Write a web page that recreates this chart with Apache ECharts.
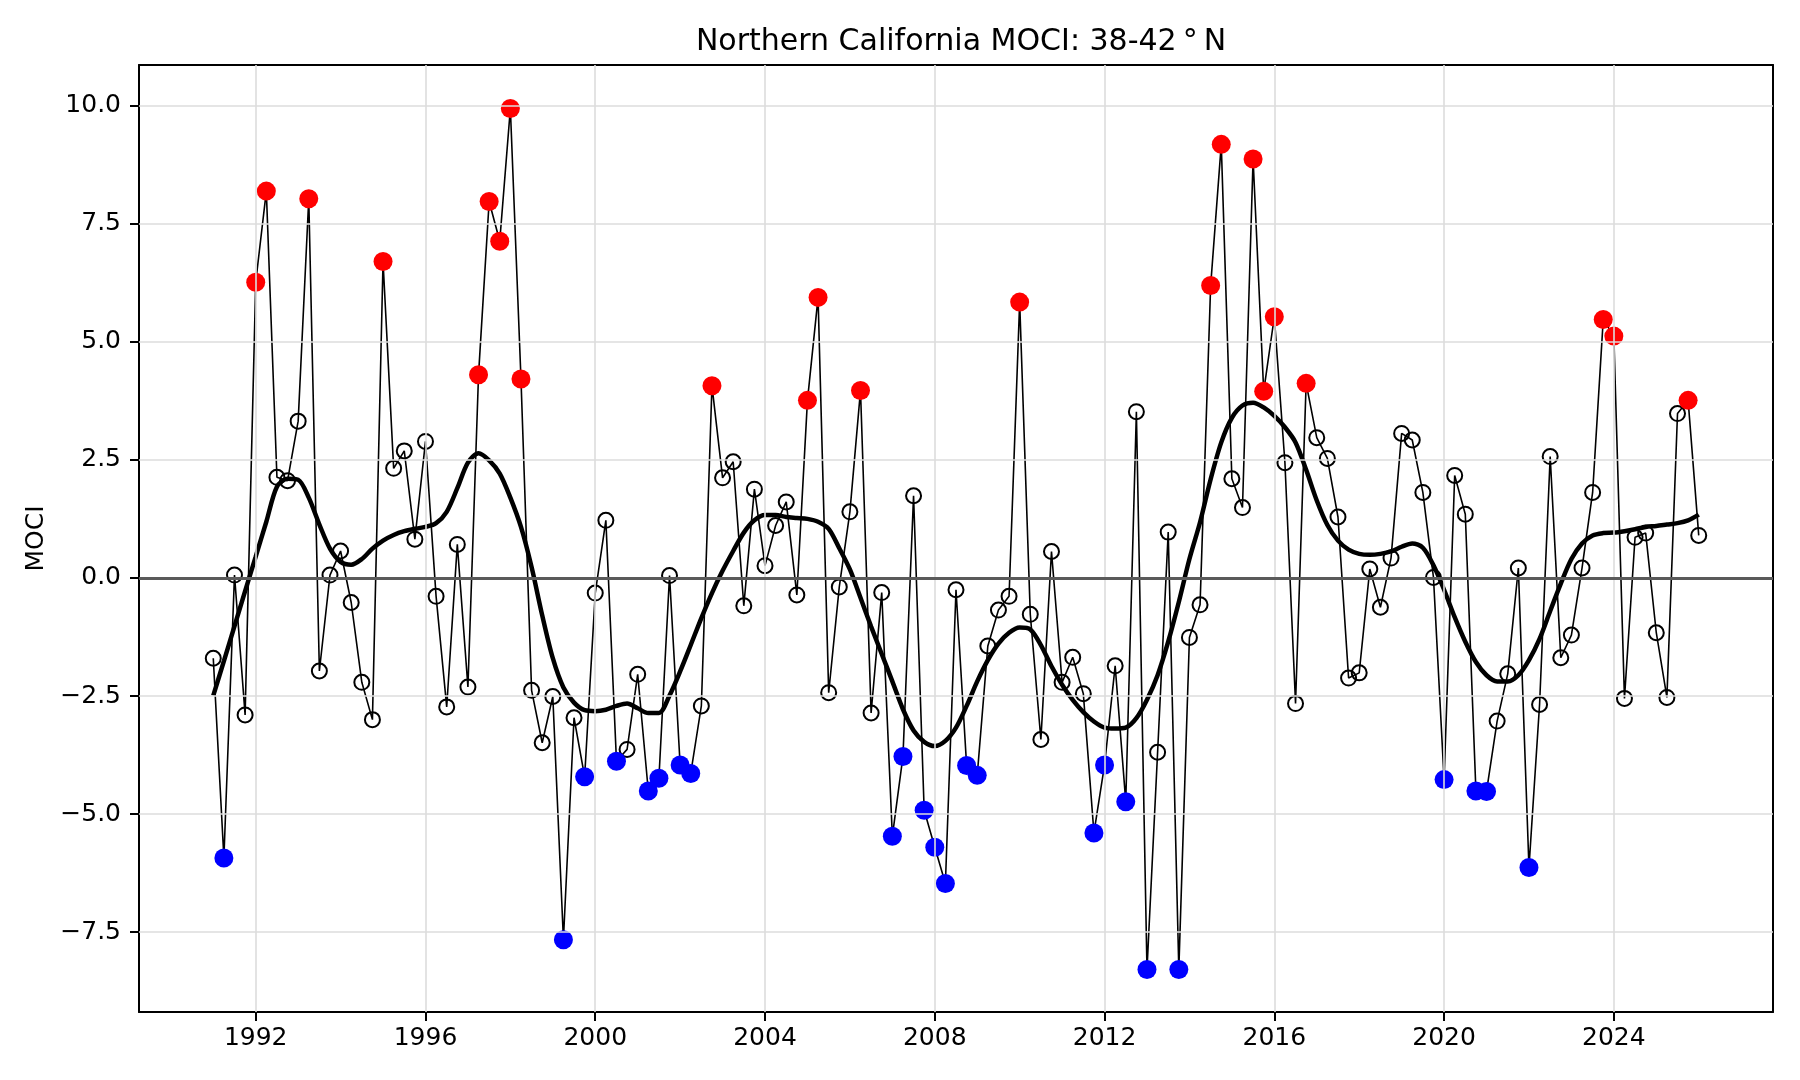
<!DOCTYPE html>
<html>
<head>
<meta charset="utf-8">
<title>Northern California MOCI</title>
<script src="https://cdn.jsdelivr.net/npm/echarts@6/dist/echarts.min.js"></script>
<style>
  html, body { margin: 0; padding: 0; background: #fff; }
  #chart { width: 1800px; height: 1080px; }
</style>
</head>
<body>
<div id="chart"></div>
<script>
// quarterly MOCI, first value is 1991 Q1
const startYear = 1991;
const moci = [
  -1.70, -5.93, 0.06, -2.90,   6.26, 8.19, 2.13, 2.06,   3.32, 8.03, -1.97, 0.06,
  0.57, -0.52, -2.21, -3.00,   6.70, 2.32, 2.69, 0.82,   2.89, -0.39, -2.73, 0.71,
  -2.31, 4.30, 7.97, 7.13,     9.94, 4.21, -2.38, -3.49,  -2.51, -7.66, -2.96, -4.21,
  -0.32, 1.22, -3.88, -3.63,   -2.04, -4.51, -4.24, 0.05, -3.96, -4.14, -2.71, 4.07,
  2.12, 2.46, -0.59, 1.88,     0.26, 1.11, 1.61, -0.36,   3.76, 5.94, -2.43, -0.19,
  1.40, 3.97, -2.86, -0.31,    -5.47, -3.78, 1.74, -4.92, -5.70, -6.47, -0.25, -3.97,
  -4.18, -1.44, -0.68, -0.39,  5.84, -0.77, -3.42, 0.56,  -2.21, -1.68, -2.45, -5.40,
  -3.96, -1.86, -4.74, 3.52,   -8.29, -3.69, 0.97, -8.29, -1.26, -0.57, 6.19, 9.18,
  2.10, 1.49, 8.87, 3.95,      5.53, 2.44, -2.66, 4.12,   2.97, 2.53, 1.29, -2.12,
  -2.01, 0.19, -0.62, 0.42,    3.06, 2.92, 1.81, 0.01,    -4.27, 2.17, 1.35, -4.51,
  -4.52, -3.03, -2.03, 0.21,   -6.13, -2.68, 2.57, -1.69, -1.21, 0.21, 1.81, 5.47,
  5.12, -2.55, 0.86, 0.95,     -1.16, -2.53, 3.48, 3.76,  0.90
];
// low-pass filtered MOCI (thick line)
const mociSmooth = [
  -2.49, -1.76, -1.02, -0.28,  0.45, 1.19, 1.93, 2.10,    2.08, 1.70, 1.13, 0.62,
  0.34, 0.28, 0.40, 0.62,      0.79, 0.91, 0.99, 1.04,    1.08, 1.16, 1.40, 1.90,
  2.44, 2.64, 2.49, 2.21,      1.70, 1.08, 0.23, -0.79,   -1.70, -2.32, -2.64, -2.80,
  -2.82, -2.79, -2.71, -2.66,  -2.76, -2.86, -2.86, -2.49, -1.98, -1.42, -0.85, -0.32,
  0.15, 0.57, 0.96, 1.22,      1.33, 1.33, 1.29, 1.27,    1.25, 1.19, 1.04, 0.63,
  0.18, -0.42, -1.03, -1.61,   -2.19, -2.78, -3.23, -3.47, -3.56, -3.45, -3.17, -2.71,
  -2.19, -1.74, -1.39, -1.16,  -1.05, -1.09, -1.42, -1.87, -2.26, -2.58, -2.84, -3.04,
  -3.17, -3.19, -3.17, -2.97,  -2.58, -2.06, -1.35, -0.51, 0.40, 1.18, 2.09, 2.87,
  3.39, 3.65, 3.71, 3.61,      3.43, 3.19, 2.87, 2.29,    1.64, 1.12, 0.79, 0.60,
  0.51, 0.49, 0.51, 0.56,      0.66, 0.73, 0.64, 0.27,    -0.25, -0.83, -1.35, -1.78,
  -2.06, -2.19, -2.19, -2.06,  -1.74, -1.29, -0.70, -0.12, 0.40, 0.73, 0.90, 0.95,
  0.96, 0.99, 1.03, 1.08,      1.10, 1.13, 1.16, 1.22,    1.34
];
const xTicks = [1992, 1996, 2000, 2004, 2008, 2012, 2016, 2020, 2024];
const yTicks = [-7.5, -5.0, -2.5, 0.0, 2.5, 5.0, 7.5, 10.0];
const threshold = 3.72;

const quarters = moci.map((_, i) => startYear + i * 0.25);
const rawData = quarters.map((t, i) => [t, moci[i]]);
const smoothData = quarters.map((t, i) => [t, mociSmooth[i]]);
const highData = rawData.filter(d => d[1] > threshold);
const lowData = rawData.filter(d => d[1] < -threshold);

const xMin = 1989.25, xMax = 2027.75;
const yMin = -9.19, yMax = 10.86;
const FONT = 'DejaVu Sans';

const chart = echarts.init(document.getElementById('chart'));

const gridLines = []
  .concat(xTicks.map(v => ({ xAxis: v })))
  .concat(yTicks.map(v => ({ yAxis: v })));

chart.setOption({
  animation: false,
  backgroundColor: '#fff',
  title: {
    text: 'Northern California MOCI: 38-42\u2009°\u2009N',
    left: 956,
    top: 22,
    textAlign: 'center',
    textStyle: { fontFamily: FONT, fontSize: 30, fontWeight: 'normal', color: '#000' }
  },
  grid: { left: 139, right: 27, top: 65, bottom: 68 },
  xAxis: [{
    type: 'value', min: xMin, max: xMax,
    axisLine: { show: true, onZero: false, lineStyle: { color: '#000', width: 2 } },
    axisTick: { show: true, customValues: xTicks, length: 9, lineStyle: { color: '#000', width: 2 } },
    axisLabel: {
      customValues: xTicks, margin: 14,
      fontFamily: FONT, fontSize: 25, color: '#000',
      formatter: v => String(Math.round(v))
    },
    splitLine: { show: false }
  }, {
    type: 'value', min: xMin, max: xMax, position: 'top',
    axisLine: { show: true, onZero: false, lineStyle: { color: '#000', width: 2 } },
    axisTick: { show: false }, axisLabel: { show: false }, splitLine: { show: false }
  }],
  yAxis: [{
    type: 'value', min: yMin, max: yMax,
    name: 'MOCI', nameLocation: 'middle', nameGap: 88, nameRotate: 90,
    nameTextStyle: { fontFamily: FONT, fontSize: 25, color: '#000' },
    axisLine: { show: true, onZero: false, lineStyle: { color: '#000', width: 2 } },
    axisTick: { show: true, customValues: yTicks, length: 9, lineStyle: { color: '#000', width: 2 } },
    axisLabel: {
      customValues: yTicks, margin: 18,
      fontFamily: FONT, fontSize: 25, color: '#000',
      formatter: v => v.toFixed(1).replace('-', '\u2212')
    },
    splitLine: { show: false }
  }, {
    type: 'value', min: yMin, max: yMax, position: 'right',
    axisLine: { show: true, onZero: false, lineStyle: { color: '#000', width: 2 } },
    axisTick: { show: false }, axisLabel: { show: false }, splitLine: { show: false }
  }],
  series: [
    {
      // grid lines
      type: 'line', data: [], silent: true, z: 1,
      markLine: {
        silent: true, symbol: 'none', animation: false,
        label: { show: false },
        lineStyle: { color: '#dcdcdc', width: 1.6, type: 'solid' },
        data: gridLines
      }
    },
    {
      // zero line
      type: 'line', data: [], silent: true, z: 1,
      markLine: {
        silent: true, symbol: 'none', animation: false,
        label: { show: false },
        lineStyle: { color: '#5a5a5a', width: 3, type: 'solid' },
        data: [{ yAxis: 0 }]
      }
    },
    {
      name: 'MOCI', type: 'line', data: rawData, z: 2, silent: true,
      showAllSymbol: true, symbol: 'circle', symbolSize: 15,
      lineStyle: { color: '#000', width: 1.6 },
      itemStyle: { color: 'transparent', borderColor: '#000', borderWidth: 2 }
    },
    {
      name: 'smooth', type: 'line', data: smoothData, z: 3, silent: true,
      symbol: 'none', smooth: 0.3,
      lineStyle: { color: '#000', width: 4.5 }
    },
    {
      name: 'high', type: 'scatter', data: highData, z: 4, silent: true,
      symbolSize: 19, itemStyle: { color: '#ff0000', opacity: 1 }
    },
    {
      name: 'low', type: 'scatter', data: lowData, z: 4, silent: true,
      symbolSize: 19, itemStyle: { color: '#0000ff', opacity: 1 }
    }
  ]
});
</script>
</body>
</html>
